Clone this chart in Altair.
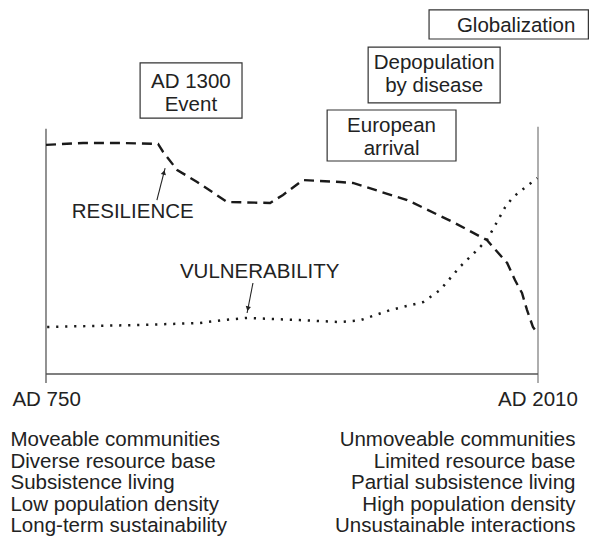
import altair as alt
import pandas as pd

# ---- data (years AD, relative level 0..100 between baseline and axis top) ----
res_year = [750, 845, 940, 1037, 1050, 1086, 1137, 1214, 1324, 1357, 1408, 1503, 1536, 1675, 1792, 1879, 1931, 1951, 1969, 1982, 1997, 2008]
res_level = [93.9, 94.7, 94.7, 94.3, 91.0, 83.6, 78.7, 70.5, 70.1, 73.4, 79.5, 78.7, 78.3, 71.3, 62.3, 54.9, 45.5, 38.5, 33.2, 26.2, 19.3, 16.8]

vul_year = [753, 991, 1144, 1203, 1265, 1400, 1503, 1554, 1631, 1716, 1759, 1810, 1849, 1879, 1905, 1926, 1946, 1972, 2008]
vul_level = [19.3, 20.1, 20.9, 22.1, 23.0, 22.1, 21.3, 22.0, 26.2, 29.5, 34.4, 43.9, 50.0, 54.9, 62.3, 68.4, 72.5, 75.8, 80.3]

# event boxes
box_x1 = [1731, 1575, 991, 1470]
box_x2 = [2139, 1913, 1252, 1800]
box_top = [149.2, 134.0, 127.5, 108.2]
box_bottom = [137.3, 111.1, 104.9, 87.3]

box_text = ["Globalization", "Depopulation", "by disease", "AD 1300", "Event", "European", "arrival"]
box_text_x = [1954, 1744, 1744, 1121, 1121, 1635, 1635]
box_text_y = [142.6, 127.5, 118.0, 119.7, 110.2, 101.6, 92.2]

curve_label = ["RESILIENCE", "VULNERABILITY"]
curve_label_x = [816, 1093]
curve_label_y = [66.4, 41.8]

arrow_x1 = [1034, 1280]
arrow_y1 = [71.3, 37.3]
arrow_x2 = [1055, 1265]
arrow_y2 = [84.4, 25.0]
arrow_head_x = [1052, 1267]
arrow_head_y = [82.6, 26.8]
arrow_shape = ["triangle-up", "triangle-down"]
arrow_angle = [14, 11]

period_label = ["AD 750", "AD 2010"]
period_x = [664, 2112]
period_y = [-10.7, -10.7]

left_lines = ["Moveable communities", "Diverse resource base", "Subsistence living",
              "Low population density", "Long-term sustainability"]
right_lines = ["Unmoveable communities", "Limited resource base", "Partial subsistence living",
               "High population density", "Unsustainable interactions"]
line_levels = [-27.05, -35.86, -44.67, -53.48, -62.3]
left_x = 659
right_x = 2106

start_year, end_year = 750, 2010
axis_top, axis_bottom = 100.5, -3.7

FONT = "Liberation Sans"
FS = 20.5
XS = alt.Scale(domain=[652.7, 2140.6], nice=False, zero=False)
YS = alt.Scale(domain=[-67.2, 150.0], nice=False, zero=False)


def X(field):
    return alt.X(field, type="quantitative", scale=XS, axis=None)


def Y(field):
    return alt.Y(field, type="quantitative", scale=YS, axis=None)


res_df = pd.DataFrame({"year": res_year, "level": res_level})
vul_df = pd.DataFrame({"year": vul_year, "level": vul_level})

res_line = alt.Chart(res_df).mark_line(
    color="#1a1a1a", strokeWidth=2.4, strokeDash=[10, 6]
).encode(x=X("year"), y=Y("level"))

vul_line = alt.Chart(vul_df).mark_line(
    color="#1a1a1a", strokeWidth=2.5, strokeDash=[2.2, 6.8]
).encode(x=X("year"), y=Y("level"))

# frame: two verticals and baseline
vert_df = pd.DataFrame({"x": [start_year, end_year], "y1": [axis_top, axis_top + 0.8],
                        "y2": [axis_bottom, axis_bottom], "c": ["#777777", "#9a9a9a"]})
verticals = alt.Chart(vert_df).mark_rule(strokeWidth=1.6).encode(
    x=X("x"), y=Y("y1"), y2="y2", color=alt.Color("c:N", scale=None)
)
base_df = pd.DataFrame({"x1": [start_year], "x2": [end_year], "y": [0]})
baseline = alt.Chart(base_df).mark_rule(strokeWidth=1.4, color="#555555").encode(
    x=X("x1"), x2="x2", y=Y("y")
)

box_df = pd.DataFrame({"x1": box_x1, "x2": box_x2, "top": box_top, "bottom": box_bottom})
boxes = alt.Chart(box_df).mark_rect(fill="white", stroke="#333333", strokeWidth=1.2).encode(
    x=X("x1"), x2="x2", y=Y("top"), y2="bottom"
)

bt_df = pd.DataFrame({"t": box_text, "x": box_text_x, "y": box_text_y})
box_labels = alt.Chart(bt_df).mark_text(
    font=FONT, fontSize=FS, color="#222222", align="center", baseline="middle"
).encode(x=X("x"), y=Y("y"), text="t:N")

cl_df = pd.DataFrame({"t": curve_label, "x": curve_label_x, "y": curve_label_y})
curve_labels = alt.Chart(cl_df).mark_text(
    font=FONT, fontSize=FS, color="#222222", align="left", baseline="middle"
).encode(x=X("x"), y=Y("y"), text="t:N")

ar_df = pd.DataFrame({"x1": arrow_x1, "y1": arrow_y1, "x2": arrow_x2, "y2": arrow_y2,
                      "hx": arrow_head_x, "hy": arrow_head_y, "shape": arrow_shape,
                      "angle": arrow_angle})
arrow_lines = alt.Chart(ar_df).mark_rule(color="#222222", strokeWidth=1.1).encode(
    x=X("x1"), y=Y("y1"), x2="x2", y2="y2"
)
arrow_heads = alt.Chart(ar_df).mark_point(filled=True, color="#222222", size=28, opacity=1).encode(
    x=X("hx"), y=Y("hy"),
    shape=alt.Shape("shape:N", scale=None),
    angle=alt.Angle("angle:Q", scale=None),
)

pl_df = pd.DataFrame({"t": period_label, "x": period_x, "y": period_y})
period_left = alt.Chart(pl_df.iloc[[0]]).mark_text(
    font=FONT, fontSize=FS, color="#222222", align="left", baseline="middle"
).encode(x=X("x"), y=Y("y"), text="t:N")
period_right = alt.Chart(pl_df.iloc[[1]]).mark_text(
    font=FONT, fontSize=FS, color="#222222", align="right", baseline="middle"
).encode(x=X("x"), y=Y("y"), text="t:N")

left_df = pd.DataFrame({"t": left_lines, "y": line_levels, "x": [left_x] * len(left_lines)})
right_df = pd.DataFrame({"t": right_lines, "y": line_levels, "x": [right_x] * len(right_lines)})
left_text = alt.Chart(left_df).mark_text(
    font=FONT, fontSize=FS, color="#222222", align="left", baseline="middle"
).encode(x=X("x"), y=Y("y"), text="t:N")
right_text = alt.Chart(right_df).mark_text(
    font=FONT, fontSize=FS, color="#222222", align="right", baseline="middle"
).encode(x=X("x"), y=Y("y"), text="t:N")

chart = alt.layer(
    verticals, baseline, res_line, vul_line, arrow_lines, arrow_heads,
    boxes, box_labels, curve_labels, period_left, period_right, left_text, right_text
).properties(
    width=581, height=530, padding=0, autosize=alt.AutoSizeParams(type="none"),
    background="white"
).configure_view(strokeWidth=0)

chart.save("out.html", embed_options={"renderer": "svg", "actions": False})
